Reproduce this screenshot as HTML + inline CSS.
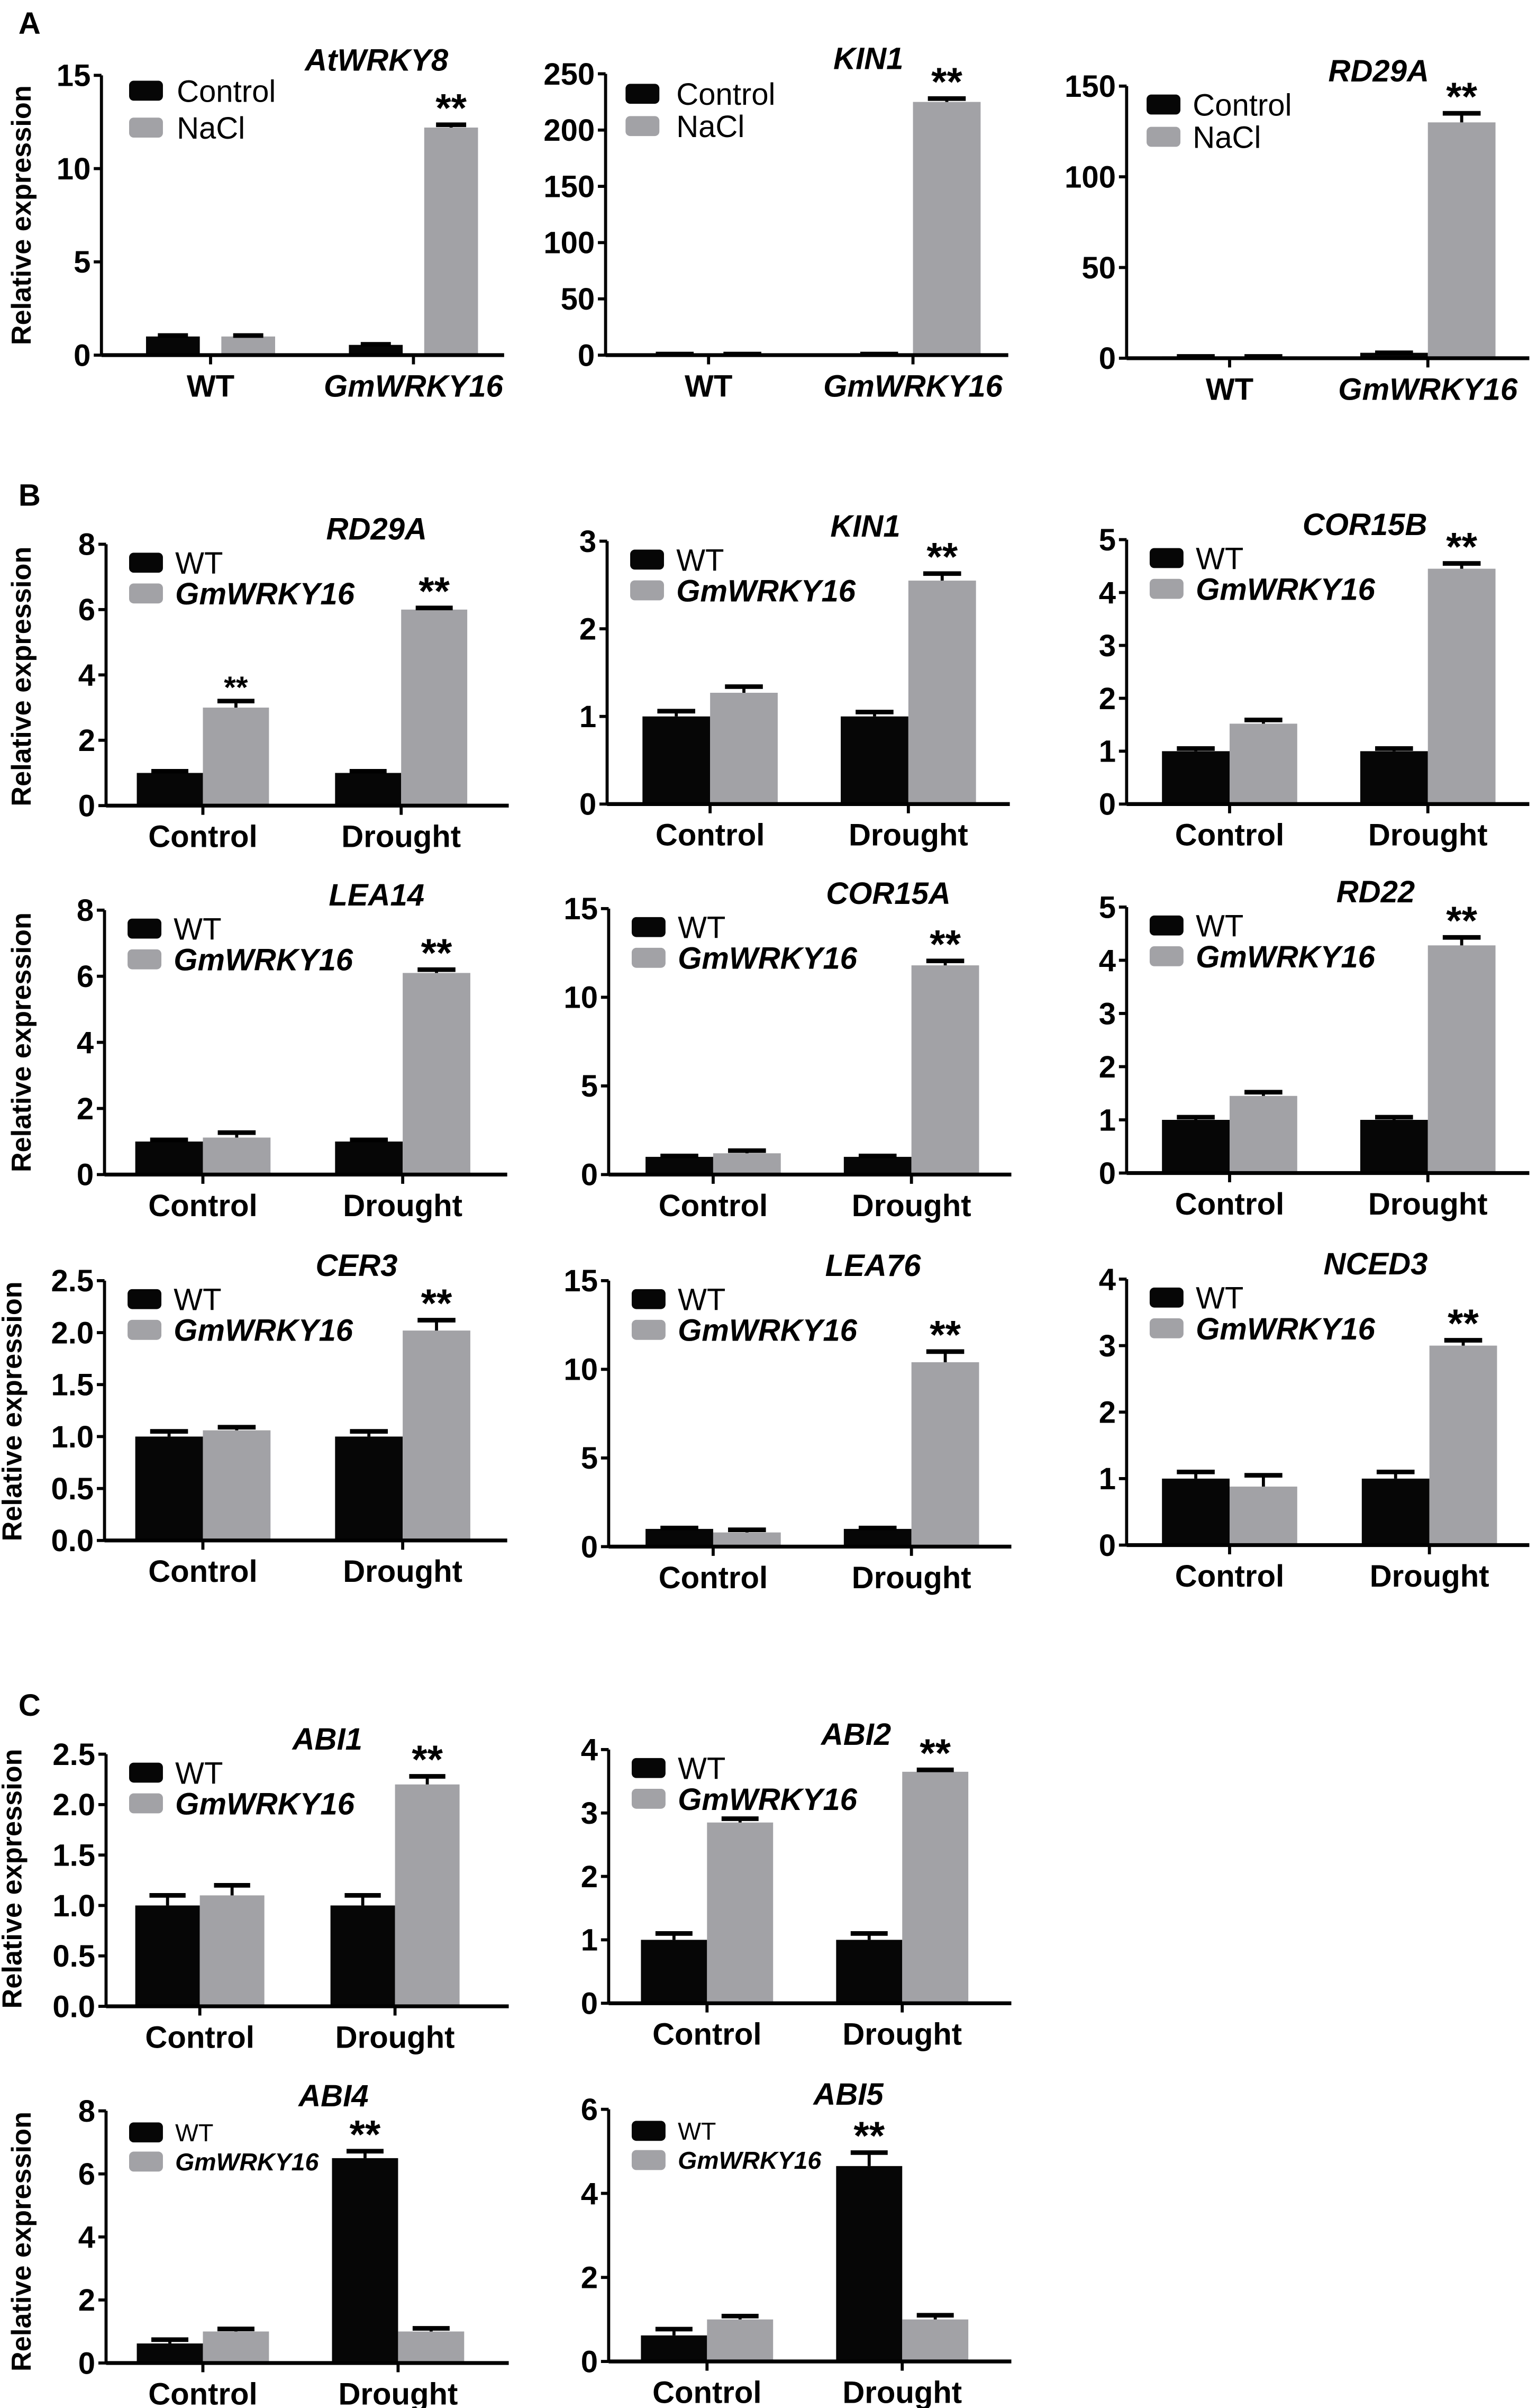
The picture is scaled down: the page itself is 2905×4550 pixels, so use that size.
<!DOCTYPE html>
<html><head><meta charset="utf-8">
<style>
html,body{margin:0;padding:0;background:#fff;}
svg{display:block;}
text{font-family:"Liberation Sans",Arial,sans-serif;fill:#000;}
</style></head>
<body>
<svg id="fig" xmlns="http://www.w3.org/2000/svg" width="2905" height="4550" viewBox="0 0 1000 1566.27"></svg>
<script>
// ---------- data (one small array set per chart) ----------
const titles = ["AtWRKY8","KIN1","RD29A","RD29A","KIN1","COR15B","LEA14","COR15A","RD22","CER3","LEA76","NCED3","ABI1","ABI2","ABI4","ABI5"];
const yMax   = [15,250,150, 8,3,5, 8,15,5, 2.5,15,4, 2.5,4, 8,6];
const yStep  = [5,50,50, 2,1,1, 2,5,1, 0.5,5,1, 0.5,1, 2,2];
const yDec   = [0,0,0, 0,0,0, 0,0,0, 1,0,0, 1,0, 0,0];
const blackVals = [[1.0,0.55],[1,1],[1,3], [1,1],[1,1],[1,1], [1,1],[1,1],[1,1], [1,1],[1,1],[1,1], [1,1],[1,1], [0.62,6.5],[0.62,4.65]];
const greyVals  = [[1.0,12.2],[1,225],[1,130], [3,6],[1.27,2.55],[1.52,4.45], [1.12,6.1],[1.2,11.8],[1.45,4.28], [1.06,2.02],[0.8,10.4],[0.88,3.0], [1.1,2.2],[2.85,3.65], [1.0,1.0],[1.0,1.0]];
const blackErr  = [[0.05,0.03],[0,0],[0,0], [0.05,0.05],[0.06,0.05],[0.05,0.05], [0.05,0.05],[0.05,0.05],[0.05,0.05], [0.05,0.05],[0.05,0.05],[0.1,0.1], [0.1,0.1],[0.1,0.1], [0.12,0.22],[0.15,0.32]];
const greyErr   = [[0.05,0.15],[0,3],[0,5], [0.2,0.05],[0.07,0.08],[0.07,0.1], [0.15,0.1],[0.15,0.25],[0.07,0.15], [0.03,0.1],[0.15,0.6],[0.17,0.08], [0.1,0.08],[0.06,0.03], [0.08,0.1],[0.08,0.1]];
const stars = [[[1,1,26]],[[1,1,26]],[[1,1,26]], [[1,0,20],[1,1,26]],[[1,1,26]],[[1,1,26]], [[1,1,26]],[[1,1,26]],[[1,1,26]], [[1,1,26]],[[1,1,26]],[[1,1,26]], [[1,1,26]],[[1,1,26]], [[0,1,26]],[[0,1,26]]];
const legendLabels = [["Control","NaCl"],["Control","NaCl"],["Control","NaCl"]];
const groupLabelsA = ["WT","GmWRKY16"];
const groupLabelsB = ["Control","Drought"];

// ---------- layout (positions only) ----------
const L = [
 {x0:66,top:49,bot:231,c1:71,c2:203,bw:35,gap:14,tx:245,ly:[59,83],lf:20,lsx:84,ltx:115},
 {x0:394,top:48,bot:231,c1:67,c2:200,bw:44,gap:0,tx:565,ly:[61,82],lf:20,lsx:407,ltx:440},
 {x0:733,top:56,bot:233,c1:67,c2:196,bw:44,gap:0,tx:897,ly:[68,89],lf:20,lsx:746,ltx:776},
 {x0:69,top:354,bot:524,c1:63,c2:192,bw:43,gap:0,tx:245},
 {x0:395,top:352,bot:523,c1:67,c2:196,bw:44,gap:0,tx:563},
 {x0:733,top:351,bot:523,c1:67,c2:196,bw:44,gap:0,tx:888},
 {x0:68,top:592,bot:764,c1:64,c2:194,bw:44,gap:0,tx:245},
 {x0:396,top:591,bot:764,c1:68,c2:197,bw:44,gap:0,tx:578},
 {x0:733,top:590,bot:763,c1:67,c2:196,bw:44,gap:0,tx:895},
 {x0:68,top:833,bot:1002,c1:64,c2:194,bw:44,gap:0,tx:232},
 {x0:396,top:833,bot:1006,c1:68,c2:197,bw:44,gap:0,tx:568},
 {x0:733,top:832,bot:1005,c1:67,c2:197,bw:44,gap:0,tx:895},
 {x0:69,top:1141,bot:1305,c1:61,c2:188,bw:42,gap:0,tx:213},
 {x0:396,top:1138,bot:1303,c1:64,c2:191,bw:43,gap:0,tx:557},
 {x0:69,top:1373,bot:1537,c1:63,c2:190,bw:43,gap:0,tx:217,small:true},
 {x0:396,top:1372,bot:1536,c1:64,c2:191,bw:43,gap:0,tx:552,small:true}
];
const rowYTitles = [140,440,678,918,1222,1458];
const NS="http://www.w3.org/2000/svg";
const svg=document.getElementById('fig');
function mk(tag,attrs,parent){const e=document.createElementNS(NS,tag);for(const k in attrs)e.setAttribute(k,attrs[k]);(parent||svg).appendChild(e);return e;}

[["A",12,22],["B",12,329],["C",12,1116]].forEach(p=>{
  const t=mk('text',{x:p[1],y:p[2],'font-size':20,'font-weight':'bold'});
  
  
  t.textContent=p[0];
});
rowYTitles.forEach((cy,i)=>{
  const x = (i===3||i===4)?14:20;
  const t=mk('text',{x:x,y:cy,'font-size':18,'font-weight':'bold','text-anchor':'middle',transform:`rotate(-90 ${x} ${cy})`});
  
  
  t.textContent='Relative expression';
});

for(let p=0;p<titles.length;p++){
  const c=L[p];
  const g=mk('g',{});
  
  
  const yS=v=>c.bot-(v/yMax[p])*(c.bot-c.top);
  const right=c.x0+262;
  const ya=mk('line',{x1:c.x0,y1:c.top,x2:c.x0,y2:c.bot,stroke:'#000','stroke-width':2},g);
  
  
  for(let v=0;v<=yMax[p]+1e-9;v+=yStep[p]){
    const y=yS(v);
    mk('line',{x1:c.x0-5,y1:y,x2:c.x0,y2:y,stroke:'#000','stroke-width':2},g);
    const t=mk('text',{x:c.x0-7,y:y+7,'font-size':20,'font-weight':'bold','text-anchor':'end'},g);
    
    
    t.textContent=v.toFixed(yDec[p]);
  }
  const centers=[c.x0+c.c1,c.x0+c.c2];
  const series=[blackVals[p],greyVals[p]];
  const errs=[blackErr[p],greyErr[p]];
  for(let gi=0;gi<2;gi++){
    for(let s=0;s<2;s++){
      const v=series[s][gi], e=errs[s][gi];
      const x = s===0 ? centers[gi]-c.gap/2-c.bw : centers[gi]+c.gap/2;
      const y=yS(v);
      const r=mk('rect',{x:x,y:y,width:c.bw,height:Math.max(c.bot-y,0.8),fill:s===0?'#060606':'#a2a2a6'},g);
      
      
      const cx=x+c.bw/2, ye=yS(v+e);
      mk('line',{x1:cx,y1:y,x2:cx,y2:ye,stroke:'#000','stroke-width':2},g);
      const cap=mk('line',{x1:cx-c.bw*0.28,y1:ye,x2:cx+c.bw*0.28,y2:ye,stroke:'#000','stroke-width':3},g);
      
      
    }
  }
  const xa=mk('line',{x1:c.x0,y1:c.bot,x2:right,y2:c.bot,stroke:'#000','stroke-width':2.5},g);
  
  
  const gl = p<3?groupLabelsA:groupLabelsB;
  centers.forEach((cx,gi)=>{
    mk('line',{x1:cx,y1:c.bot,x2:cx,y2:c.bot+6,stroke:'#000','stroke-width':2},g);
    const italic = p<3 && gi===1;
    const t=mk('text',{x:cx,y:c.bot+27,'font-size':20,'font-weight':'bold','text-anchor':'middle','font-style':italic?'italic':'normal'},g);
    
    
    t.textContent=gl[gi];
  });
  stars[p].forEach(st=>{
    const s=st[0],gi=st[1];
    const v=series[s][gi]+errs[s][gi];
    const x = (s===0 ? centers[gi]-c.gap/2-c.bw : centers[gi]+c.gap/2)+c.bw/2;
    const t=mk('text',{x:x,y:yS(v)-2,'font-size':st[2],'font-weight':'bold','text-anchor':'middle'},g);
    
    
    t.textContent='**';
  });
  const tt=mk('text',{x:c.tx,y:c.top-3,'font-size':20,'font-weight':'bold','font-style':'italic','text-anchor':'middle'},g);
  
  
  tt.textContent=titles[p];
  let labs,lys,lsx,ltx,lf;
  if(p<3){labs=legendLabels[p];lys=c.ly;lsx=c.lsx;ltx=c.ltx;lf=c.lf;}
  else{labs=["WT","GmWRKY16"];const sm=c.small;lys=sm?[c.top+14,c.top+33]:[c.top+12,c.top+32];lsx=c.x0+15;ltx=c.x0+45;lf=sm?16:20;}
  labs.forEach((lab,i)=>{
    const sw=mk('rect',{x:lsx,y:lys[i]-6.5,width:22,height:13,rx:3,fill:i===0?'#060606':'#a2a2a6'},g);
    
    
    const it = p>=3 && i===1;
    const t=mk('text',{x:ltx,y:lys[i]+lf*0.36,'font-size':lf,'font-weight':it?'bold':'normal','font-style':it?'italic':'normal'},g);
    
    
    t.textContent=lab;
  });
}
</script>
</body></html>
